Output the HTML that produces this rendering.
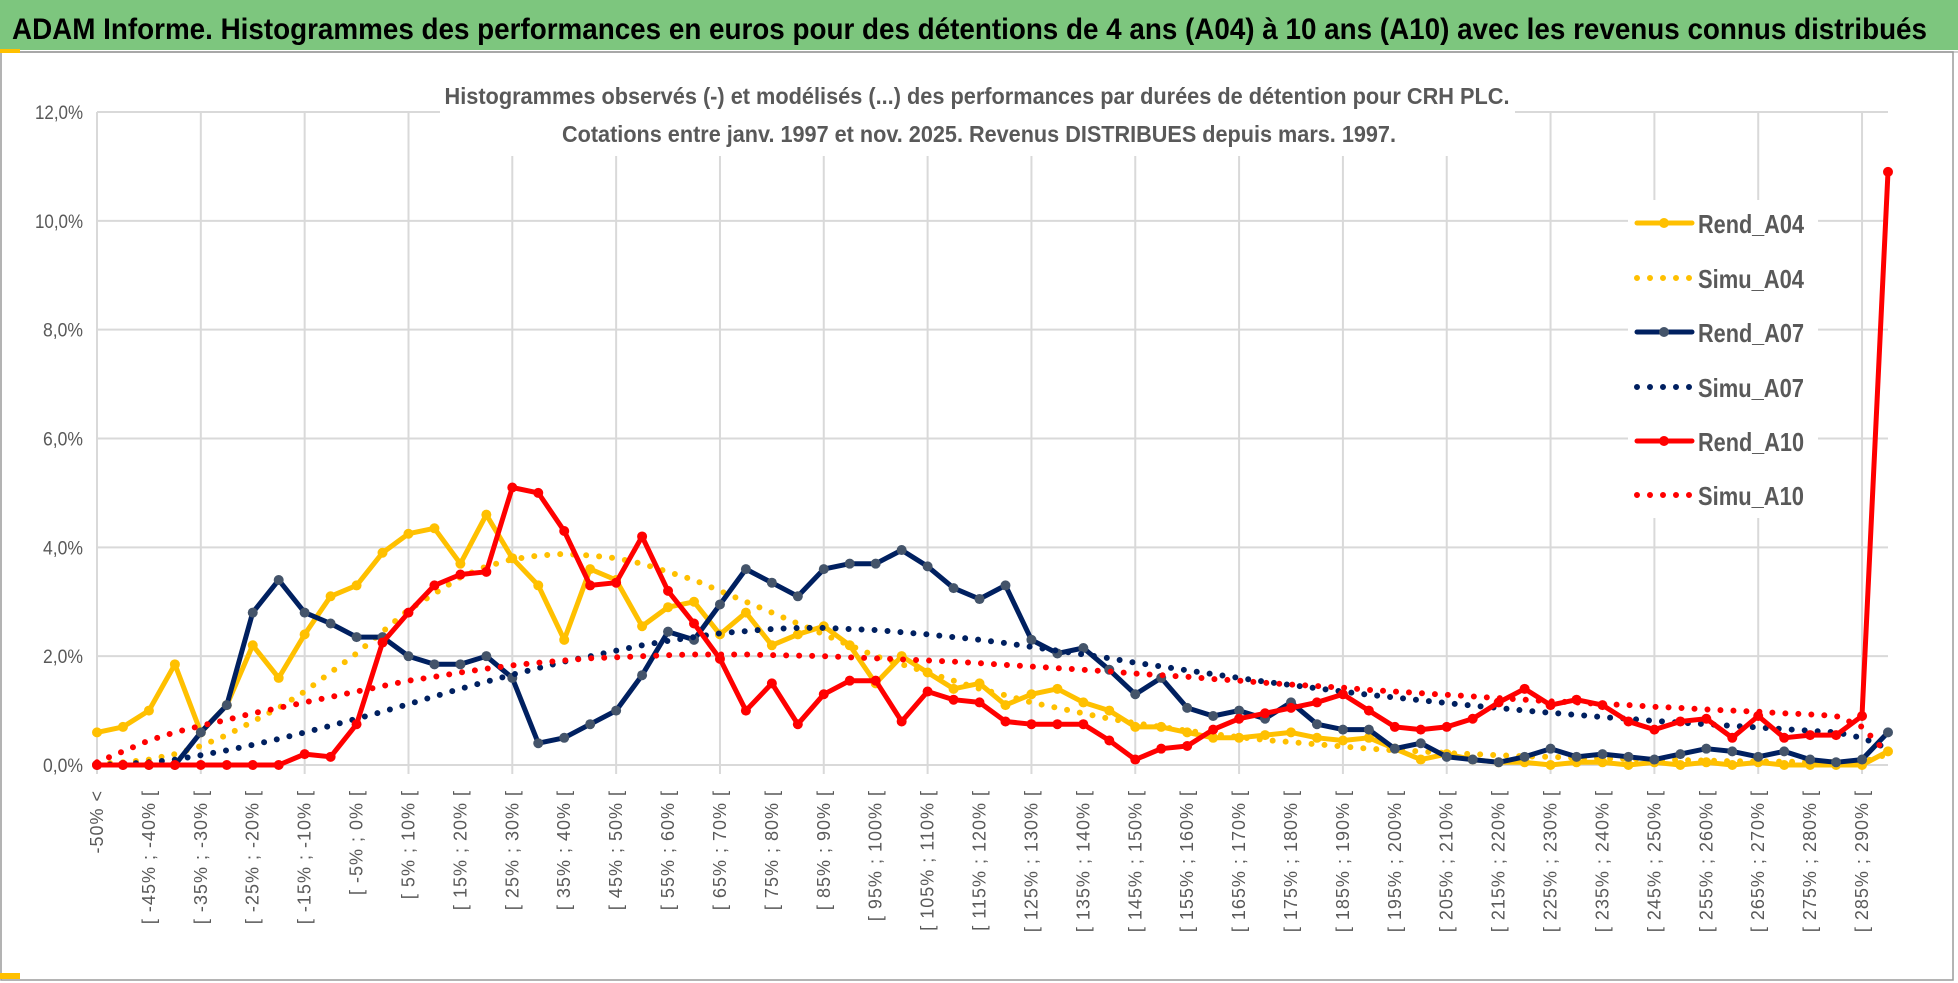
<!DOCTYPE html>
<html><head><meta charset="utf-8"><style>
html,body{margin:0;padding:0;background:#fff;}
svg{display:block;font-family:"Liberation Sans",sans-serif;}
</style></head><body>
<svg id="chart" width="1958" height="983" viewBox="0 0 1958 983" xmlns="http://www.w3.org/2000/svg">
<rect x="0" y="0" width="1958" height="983" fill="#fff"/>
<rect x="0" y="0" width="1958" height="50" fill="#7dc67e"/>
<text x="12" y="39" font-size="30" font-weight="bold" fill="#000" textLength="1915" lengthAdjust="spacingAndGlyphs">ADAM Informe. Histogrammes des performances en euros pour des détentions de 4 ans (A04) à 10 ans (A10) avec les revenus connus distribués</text>
<line x1="0" y1="52" x2="1958" y2="52" stroke="#d0d0d0" stroke-width="2"/>
<rect x="1" y="52" width="1952" height="928" fill="none" stroke="#9a9a9a" stroke-width="1.5"/>
<rect x="0" y="49" width="20" height="4" fill="#ffc000"/>
<rect x="0" y="973" width="20" height="6" fill="#ffc000"/>
<g id="grid"></g>
<g id="plot"></g>
<rect x="440" y="80" width="1075" height="76" fill="#fff"/>
<text x="977" y="104" text-anchor="middle" font-size="23" font-weight="bold" fill="#595959" textLength="1065" lengthAdjust="spacingAndGlyphs">Histogrammes observés (-) et modélisés (...) des performances par durées de détention pour CRH PLC.</text>
<text x="979" y="142" text-anchor="middle" font-size="23" font-weight="bold" fill="#595959" textLength="834" lengthAdjust="spacingAndGlyphs">Cotations entre janv. 1997 et nov. 2025. Revenus DISTRIBUES depuis mars. 1997.</text>
<g id="legend"></g>
</svg>
<script>
const categoriesCount = 70;
const yTicks = [0,2,4,6,8,10,12];
const yTickLabels = ["0,0%","2,0%","4,0%","6,0%","8,0%","10,0%","12,0%"];
const seriesNames = ["Rend_A04","Simu_A04","Rend_A07","Simu_A07","Rend_A10","Simu_A10"];
const rendA04 = [0.6,0.7,1.0,1.85,0.6,1.1,2.2,1.6,2.4,3.1,3.3,3.9,4.25,4.35,3.7,4.6,3.8,3.3,2.3,3.6,3.4,2.55,2.9,3.0,2.4,2.8,2.2,2.4,2.55,2.2,1.5,2.0,1.7,1.4,1.5,1.1,1.3,1.4,1.15,1.0,0.7,0.7,0.6,0.5,0.5,0.55,0.6,0.5,0.45,0.5,0.3,0.1,0.2,0.1,0.05,0.05,0.0,0.05,0.05,0.0,0.05,0.0,0.05,0.0,0.05,0.0,0.0,0.0,0.0,0.25];
const simuA04 = [0.02,0.05,0.1,0.2,0.35,0.55,0.8,1.05,1.35,1.7,2.05,2.45,2.85,3.15,3.45,3.65,3.78,3.85,3.88,3.85,3.8,3.7,3.55,3.4,3.2,3.0,2.8,2.6,2.4,2.2,2.0,1.85,1.7,1.55,1.4,1.28,1.15,1.05,0.95,0.85,0.77,0.7,0.63,0.57,0.51,0.46,0.42,0.38,0.34,0.3,0.27,0.25,0.22,0.2,0.18,0.16,0.15,0.13,0.12,0.11,0.1,0.09,0.08,0.07,0.07,0.06,0.06,0.05,0.05,0.2];
const rendA07 = [0,0,0,0,0.6,1.1,2.8,3.4,2.8,2.6,2.35,2.35,2.0,1.85,1.85,2.0,1.6,0.4,0.5,0.75,1.0,1.65,2.45,2.3,2.95,3.6,3.35,3.1,3.6,3.7,3.7,3.95,3.65,3.25,3.05,3.3,2.3,2.05,2.15,1.75,1.3,1.6,1.05,0.9,1.0,0.85,1.15,0.75,0.65,0.65,0.3,0.4,0.15,0.1,0.05,0.15,0.3,0.15,0.2,0.15,0.1,0.2,0.3,0.25,0.15,0.25,0.1,0.05,0.1,0.6];
const simuA07 = [0,0.02,0.05,0.1,0.18,0.27,0.37,0.48,0.6,0.72,0.85,0.98,1.12,1.26,1.4,1.53,1.66,1.78,1.9,2.0,2.1,2.2,2.28,2.35,2.42,2.46,2.5,2.52,2.52,2.5,2.48,2.44,2.4,2.35,2.3,2.24,2.17,2.1,2.03,1.96,1.88,1.81,1.74,1.67,1.6,1.53,1.47,1.41,1.35,1.29,1.24,1.19,1.14,1.09,1.05,1.0,0.96,0.92,0.88,0.85,0.81,0.78,0.75,0.72,0.69,0.66,0.63,0.6,0.5,0.3];
const rendA10 = [0,0,0,0,0,0,0,0,0.2,0.15,0.75,2.25,2.8,3.3,3.5,3.55,5.1,5.0,4.3,3.3,3.35,4.2,3.2,2.6,1.95,1.0,1.5,0.75,1.3,1.55,1.55,0.8,1.35,1.2,1.15,0.8,0.75,0.75,0.75,0.45,0.1,0.3,0.35,0.65,0.85,0.95,1.05,1.15,1.3,1.0,0.7,0.65,0.7,0.85,1.15,1.4,1.1,1.2,1.1,0.8,0.65,0.8,0.85,0.5,0.9,0.5,0.55,0.55,0.9,10.9];
const simuA10 = [0.05,0.25,0.45,0.6,0.72,0.83,0.95,1.05,1.15,1.25,1.35,1.45,1.55,1.62,1.7,1.77,1.83,1.88,1.92,1.96,1.98,2.0,2.02,2.03,2.03,2.03,2.02,2.01,2.0,1.98,1.96,1.94,1.92,1.9,1.87,1.84,1.81,1.78,1.75,1.72,1.68,1.65,1.62,1.58,1.55,1.51,1.48,1.45,1.42,1.38,1.35,1.32,1.29,1.26,1.23,1.2,1.17,1.15,1.12,1.1,1.07,1.05,1.02,1.0,0.98,0.95,0.93,0.9,0.7,0.2];

function categoryLabel(i){
  if(i===0) return "-50% <";
  const lo=-50+5*(i-1);
  return "[ "+lo+"% ; "+(lo+5)+"% [";
}
const X0=97, X1=1888, Y0=765, Y12=112;
const xPos=i=>X0+(X1-X0)*i/(categoriesCount-1);
const yPos=v=>Y0-(Y0-Y12)*v/12;
const NS="http://www.w3.org/2000/svg";
function mk(tag,attrs,parent){const e=document.createElementNS(NS,tag);for(const k in attrs)e.setAttribute(k,attrs[k]);parent.appendChild(e);return e;}

const grid=document.getElementById('grid');
for(let i=0;i<categoriesCount;i+=4){
  const l=mk('line',{x1:xPos(i),x2:xPos(i),y1:Y12,y2:Y0+9,stroke:'#d9d9d9','stroke-width':2},grid);
  
  
}
yTicks.forEach((t,k)=>{
  const l=mk('line',{x1:X0,x2:X1,y1:yPos(t),y2:yPos(t),stroke:'#d9d9d9','stroke-width':2},grid);
  
  
  const tx=mk('text',{x:83,y:yPos(t)+7,'text-anchor':'end','font-size':19,fill:'#595959',textLength:yTickLabels[k].length>4?48:40,lengthAdjust:'spacingAndGlyphs'},grid);
  tx.textContent=yTickLabels[k];
  
  
});
for(let i=0;i<categoriesCount;i+=2){
  if(i>68) break;
  const x=xPos(i)+6, y=790;
  const tx=mk('text',{x:x,y:y,transform:`rotate(-90 ${x} ${y})`,'text-anchor':'end','font-size':18,fill:'#595959','letter-spacing':'1'},grid);
  tx.textContent=categoryLabel(i);
  
  
}

const plot=document.getElementById('plot');
const styles=[
  {data:rendA04,color:'#ffc000',marker:'#ffc000',dot:false},
  {data:simuA04,color:'#ffc000',dot:true},
  {data:rendA07,color:'#002060',marker:'#44546a',dot:false},
  {data:simuA07,color:'#002060',dot:true},
  {data:rendA10,color:'#ff0000',marker:'#ff0000',dot:false},
  {data:simuA10,color:'#ff0000',dot:true}
];
styles.forEach((s,si)=>{
  const pts=s.data.map((v,i)=>xPos(i).toFixed(1)+','+yPos(v).toFixed(1)).join(' ');
  const g=mk('g',{},plot);
  
  
  if(s.dot){
    mk('polyline',{points:pts,fill:'none',stroke:s.color,'stroke-width':6,'stroke-linecap':'round','stroke-dasharray':'0 13'},g);
  } else {
    mk('polyline',{points:pts,fill:'none',stroke:s.color,'stroke-width':5,'stroke-linejoin':'round'},g);
    s.data.forEach((v,i)=>{
      const c=mk('circle',{cx:xPos(i),cy:yPos(v),r:5,fill:s.marker},g);
      
      
    });
  }
});

const lg=document.getElementById('legend');
mk('rect',{x:1628,y:200,width:190,height:318,fill:'#fff'},lg);
const rowsY=[223,278,332,387,441,495];
styles.forEach((s,si)=>{
  const y=rowsY[si];
  const g=mk('g',{},lg);
  
  
  if(s.dot){
    mk('line',{x1:1637,x2:1690,y1:y,y2:y,stroke:s.color,'stroke-width':6,'stroke-linecap':'round','stroke-dasharray':'0 13'},g);
  } else {
    mk('line',{x1:1637,x2:1692,y1:y,y2:y,stroke:s.color,'stroke-width':5,'stroke-linecap':'round'},g);
    mk('circle',{cx:1664,cy:y,r:5,fill:s.marker},g);
  }
  const t=mk('text',{x:1698,y:y+10,'font-size':26,'font-weight':'bold',fill:'#595959',textLength:106,lengthAdjust:'spacingAndGlyphs'},g);
  t.textContent=seriesNames[si];
});
</script>
</body></html>
